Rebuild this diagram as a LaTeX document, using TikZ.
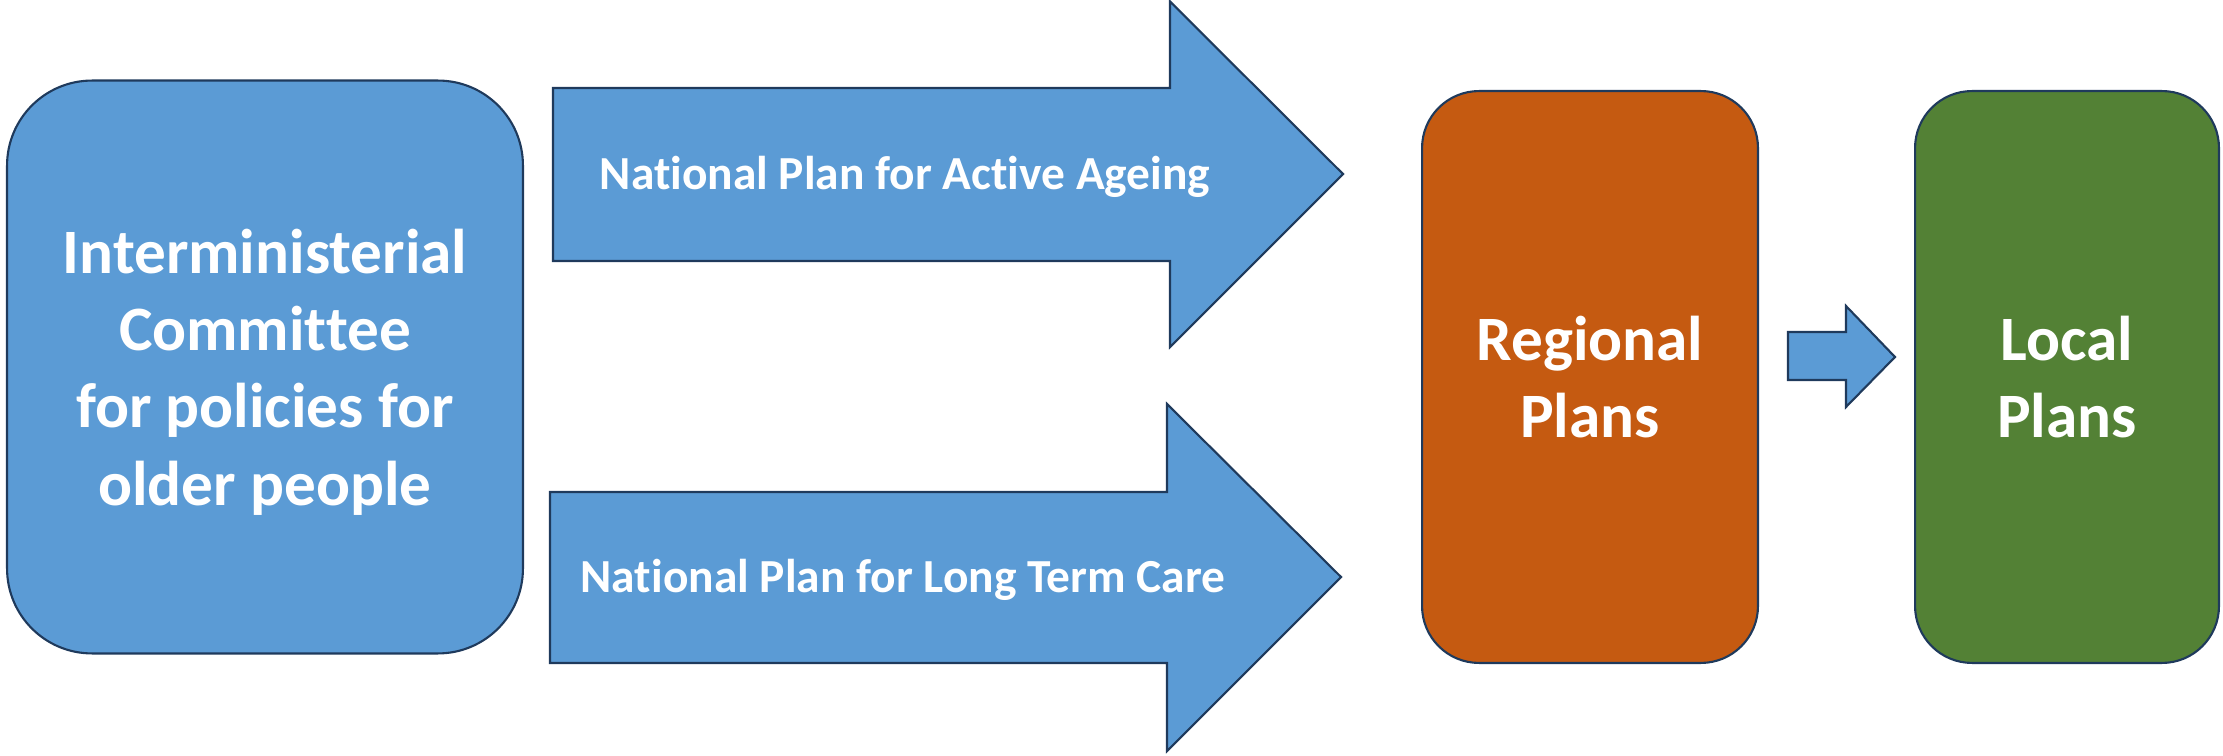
\documentclass[tikz,border=0pt]{standalone}
\usepackage{fontspec}
\setmainfont{Carlito}[Ligatures=NoCommon]
\usetikzlibrary{positioning}
\definecolor{planblue}{HTML}{5B9BD5}
\definecolor{planorange}{HTML}{C55A11}
\definecolor{plangreen}{HTML}{538135}
\definecolor{planedge}{HTML}{1F3A5C}

\begin{document}
\begin{tikzpicture}[x=0.02cm,y=-0.02cm,
  plan box/.style={draw=planedge,line width=1.2pt,align=center,
  text=white,font=\fontsize{36}{44}\selectfont\bfseries,inner sep=0pt},
  block arrow/.style={draw=planedge,line width=1.2pt,fill=planblue,line join=miter},
  arrow text/.style={text=white,font=\fontsize{27}{32}\selectfont\bfseries,inner sep=0pt}]

  \useasboundingbox (0,0) rectangle (2223,756);

  \node[plan box,fill=planblue,rounded corners=1.7cm,minimum width=10.32cm,minimum height=11.46cm,
    text depth=-0.2cm] (committee) at (265,367) {Interministerial\\Committee\\for policies for\\older people};
  \node[plan box,fill=planorange,rounded corners=1.14cm,minimum width=6.72cm,minimum height=11.44cm]
    (regional) at (1590,377) {Regional\\Plans};
  \node[plan box,fill=plangreen,rounded corners=1.14cm,minimum width=6.08cm,minimum height=11.44cm]
    (local) at (2067,377) {Local\\Plans};

  % the two national plans, drawn as block arrows
  \draw[block arrow] (553,88) -- (1170,88) -- (1170,1.5) -- (1343,174)
    -- (1170,347) -- (1170,261) -- (553,261) -- cycle;
  \node[arrow text] (active) at (905,177) {National Plan for Active Ageing};

  \draw[block arrow] (550,492) -- (1167,492) -- (1167,404) -- (1341,577)
    -- (1167,751) -- (1167,663) -- (550,663) -- cycle;
  \node[arrow text] (care) at (903,580) {National Plan for Long Term Care};

  \draw[block arrow] (1788,332) -- (1846,332) -- (1846,306) -- (1895,357)
    -- (1846,407) -- (1846,380) -- (1788,380) -- cycle;
\end{tikzpicture}
\end{document}
